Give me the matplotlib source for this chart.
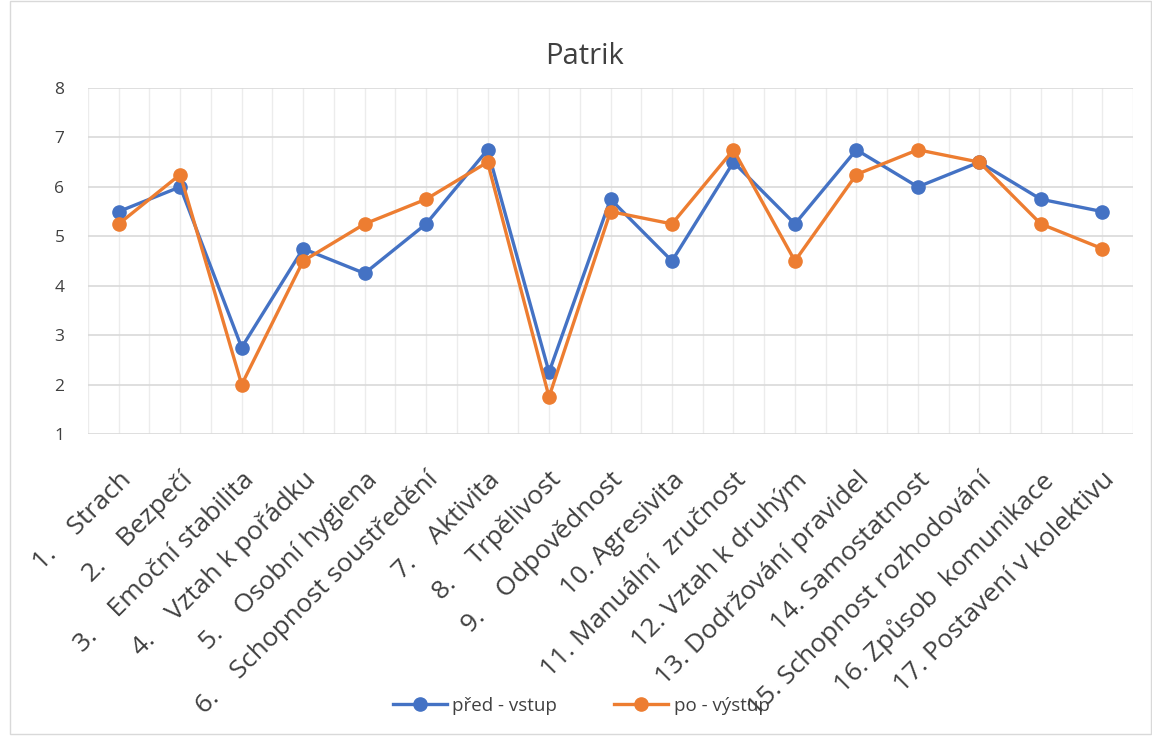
import matplotlib
matplotlib.use("Agg")
import matplotlib.pyplot as plt
from matplotlib.patches import Rectangle
import numpy as np

plt.rcParams['font.family'] = ['Open Sans', 'DejaVu Sans']

# data
names = ["Strach", "Bezpečí", "Emoční stabilita", "Vztah k pořádku", "Osobní hygiena",
         "Schopnost soustředění", "Aktivita", "Trpělivost", "Odpovědnost", "Agresivita",
         "Manuální  zručnost", "Vztah k druhým", "Dodržování pravidel", "Samostatnost",
         "Schopnost rozhodování", "Způsob  komunikace", "Postavení v kolektivu"]
pred = [5.5, 6.0, 2.75, 4.75, 4.25, 5.25, 6.75, 2.25, 5.75, 4.5,
        6.5, 5.25, 6.75, 6.0, 6.5, 5.75, 5.5]
po = [5.25, 6.25, 2.0, 4.5, 5.25, 5.75, 6.5, 1.75, 5.5, 5.25,
      6.75, 4.5, 6.25, 6.75, 6.5, 5.25, 4.75]

labels = []
for i, n in enumerate(names, start=1):
    if i < 10:
        labels.append(f"{i}." + " " * 4 + n)
    else:
        labels.append(f"{i}. " + n)

fig = plt.figure(figsize=(11.52, 7.37), dpi=100)
fig.patches.append(Rectangle((0.009, 0.004), 0.99, 0.994, transform=fig.transFigure,
                             fill=False, edgecolor="#d9d9d9", linewidth=1))
ax = fig.add_axes([88 / 1152, 1 - 434 / 737, (1133 - 88) / 1152, (434 - 88) / 737])

x = np.arange(len(names))
ax.plot(x, pred, "-o", color="#4472C4", lw=2.4, ms=9.5, label="před - vstup", zorder=3)
ax.plot(x, po, "-o", color="#ED7D31", lw=2.4, ms=9.5, label="po - výstup", zorder=4)

ax.set_xlim(-0.5, len(names) - 0.5)
ax.set_ylim(1, 8)
ax.set_yticks(range(1, 9))

# vertical grid at centers and boundaries
for xv in np.arange(-0.5, len(names), 0.5):
    ax.axvline(xv, color="#ececec", lw=1, zorder=0)
for yv in range(1, 9):
    ax.axhline(yv, color="#d9d9d9", lw=1.2, zorder=1)

for s in ax.spines.values():
    s.set_visible(False)
ax.tick_params(axis="both", length=0, colors="#404040")
ax.tick_params(axis="y", pad=17, labelsize=12.5)
ax.set_xticks(x)
ax.set_xticklabels(labels, rotation=45, ha="right", rotation_mode="anchor", fontsize=19)
ax.tick_params(axis="x", pad=24)

fig.text(585 / 1152, 1 - 57 / 737, "Patrik", ha="center", va="center",
         fontsize=21, color="#404040")

fig.legend(loc="center", bbox_to_anchor=(581 / 1152, 1 - 706 / 737), ncol=2, frameon=False,
           fontsize=13.5, columnspacing=3.0, handlelength=2.9, handletextpad=0.3,
           labelcolor="#404040")

fig.savefig("out.png", dpi=100)
